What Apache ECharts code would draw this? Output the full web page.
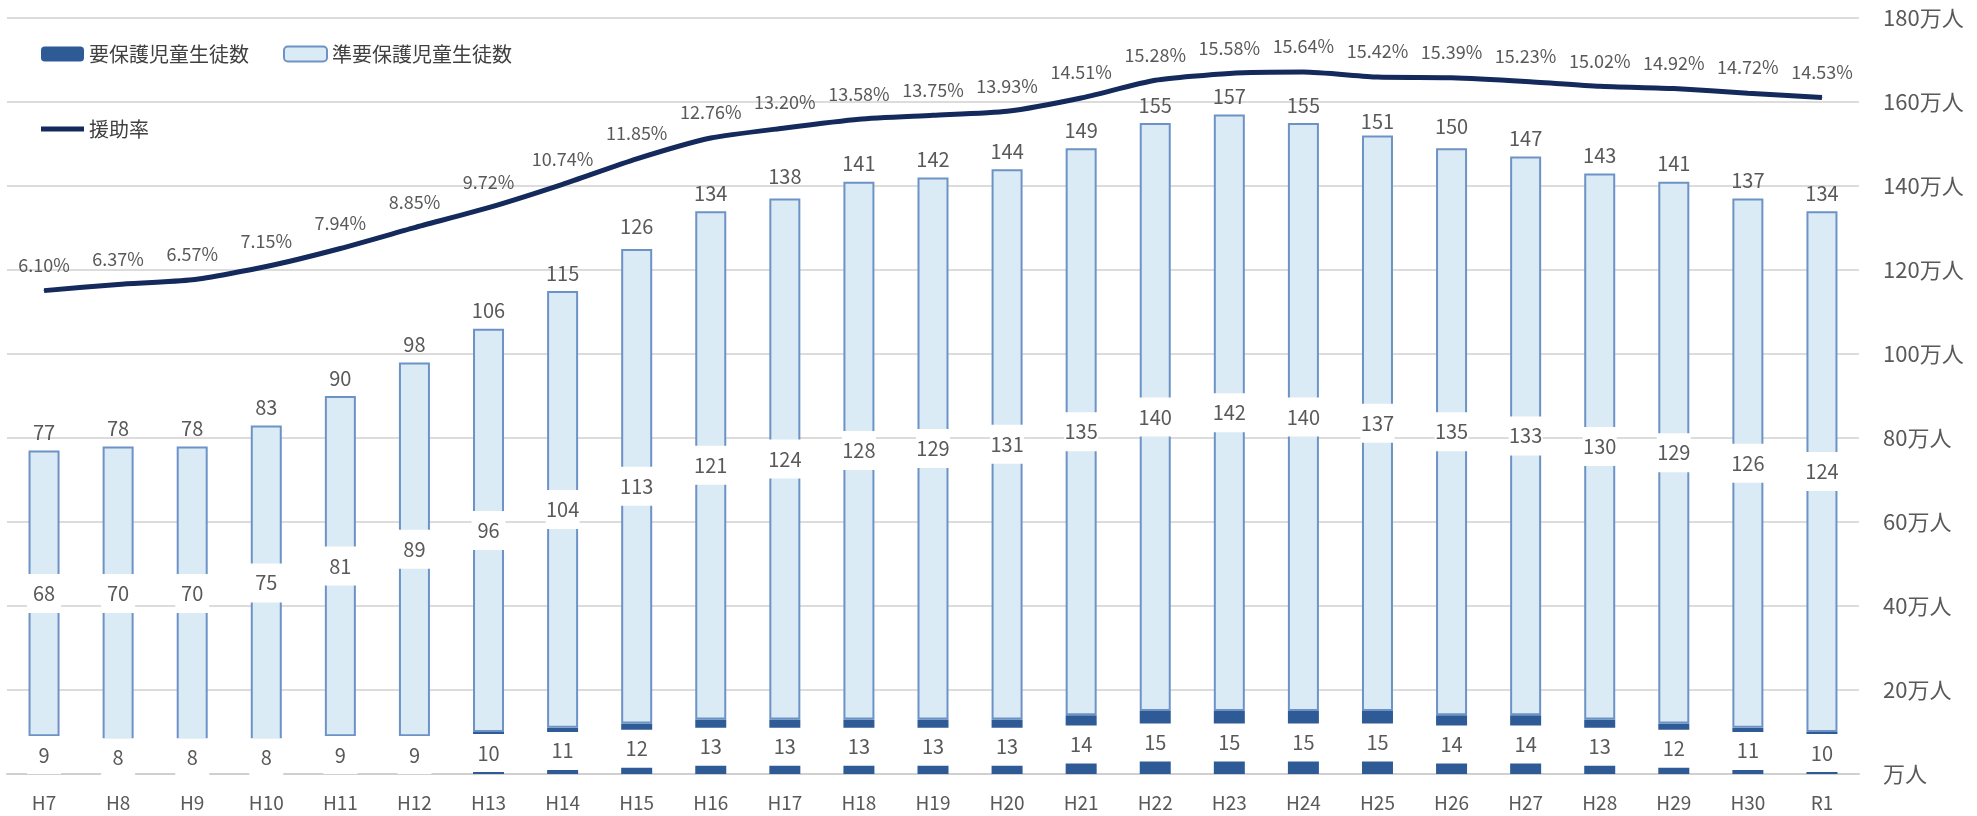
<!DOCTYPE html>
<html>
<head>
<meta charset="utf-8">
<script src="https://cdn.jsdelivr.net/npm/echarts@6/dist/echarts.min.js"></script>
<style>
  html, body { margin: 0; padding: 0; background: #fff; }
  #chart { width: 1977px; height: 816px; }
</style>
</head>
<body>
<div id="chart"></div>
<script>
// 年度
const years = ['H7','H8','H9','H10','H11','H12','H13','H14','H15','H16','H17','H18','H19','H20','H21','H22','H23','H24','H25','H26','H27','H28','H29','H30','R1'];
// 要保護児童生徒数（万人）
const yohogo = [9,8,8,8,9,9,10,11,12,13,13,13,13,13,14,15,15,15,15,14,14,13,12,11,10];
// 準要保護児童生徒数（万人）
const junYohogo = [68,70,70,75,81,89,96,104,113,121,124,128,129,131,135,140,142,140,137,135,133,130,129,126,124];
// 合計（万人）
const totals = [77,78,78,83,90,98,106,115,126,134,138,141,142,144,149,155,157,155,151,150,147,143,141,137,134];
// 援助率（%）
const rate = [6.10,6.37,6.57,7.15,7.94,8.85,9.72,10.74,11.85,12.76,13.20,13.58,13.75,13.93,14.51,15.28,15.58,15.64,15.42,15.39,15.23,15.02,14.92,14.72,14.53];

const FONT = '"Noto Sans CJK JP", "Noto Sans", sans-serif';
const TEXT = '#595959';
const DARK = '#2E5B95';
const LIGHT = '#DBEBF6';
const LIGHT_BORDER = '#6D93C6';
const LINE = '#14295C';

const chart = echarts.init(document.getElementById('chart'));

const boxLabel = {
  show: true,
  position: 'inside',
  color: TEXT,
  fontFamily: FONT,
  fontSize: 20,
  backgroundColor: '#ffffff',
  width: 34,
  height: 38,
  lineHeight: 38,
  align: 'center',
  verticalAlign: 'middle'
};

chart.setOption({
  animation: false,
  backgroundColor: '#ffffff',
  textStyle: { fontFamily: FONT },
  legend: [
    {
      left: 36, top: 39,
      itemWidth: 43, itemHeight: 15, itemGap: 34,
      textStyle: { color: '#404040', fontSize: 20, fontFamily: FONT },
      data: ['要保護児童生徒数', '準要保護児童生徒数']
    },
    {
      left: 36, top: 114,
      itemWidth: 43, itemHeight: 5,
      icon: 'rect',
      textStyle: { color: '#404040', fontSize: 20, fontFamily: FONT },
      data: ['援助率']
    }
  ],
  grid: { left: 7, right: 118, top: 18, bottom: 42, containLabel: false },
  xAxis: {
    type: 'category',
    data: years,
    axisLine: { lineStyle: { color: '#d0d0d0', width: 2 } },
    axisTick: { show: false },
    axisLabel: { color: TEXT, fontSize: 19, fontFamily: FONT, margin: 19 }
  },
  yAxis: [
    {
      type: 'value',
      position: 'right',
      min: 0, max: 180, interval: 20,
      axisLine: { show: false },
      axisTick: { show: false },
      splitLine: { lineStyle: { color: '#dcdcdc', width: 2 } },
      axisLabel: {
        color: TEXT, fontSize: 22, fontFamily: FONT, margin: 24,
        formatter: v => (v === 0 ? '' : v) + '万人'
      }
    },
    {
      type: 'value',
      min: -15, max: 18, interval: 3,
      show: false,
      splitLine: { show: false }
    }
  ],
  series: [
    {
      name: '要保護児童生徒数',
      type: 'bar',
      stack: 'count',
      barWidth: 31,
      data: yohogo,
      itemStyle: { color: DARK },
      label: boxLabel,
      z: 3
    },
    {
      name: '準要保護児童生徒数',
      type: 'bar',
      stack: 'count',
      barWidth: 31,
      data: junYohogo,
      itemStyle: { color: LIGHT, borderColor: LIGHT_BORDER, borderWidth: 2 },
      label: Object.assign({}, boxLabel, { height: 39, lineHeight: 39 }),
      z: 3
    },
    {
      name: '合計',
      type: 'bar',
      barWidth: 31,
      barGap: '-100%',
      data: totals,
      silent: true,
      itemStyle: { color: 'rgba(0,0,0,0)' },
      label: {
        show: true,
        position: 'top',
        distance: 8,
        color: TEXT,
        fontSize: 20,
        fontFamily: FONT
      },
      z: 2
    },
    {
      name: '援助率',
      type: 'line',
      yAxisIndex: 1,
      data: rate,
      smooth: 0.2,
      symbol: 'circle',
      symbolSize: 1,
      showSymbol: true,
      lineStyle: { color: LINE, width: 5 },
      itemStyle: { color: LINE },
      label: {
        show: true,
        position: 'top',
        distance: 16,
        color: TEXT,
        fontSize: 18,
        fontFamily: FONT,
        formatter: p => p.value.toFixed(2) + '%'
      },
      z: 5
    }
  ]
});
</script>
</body>
</html>
